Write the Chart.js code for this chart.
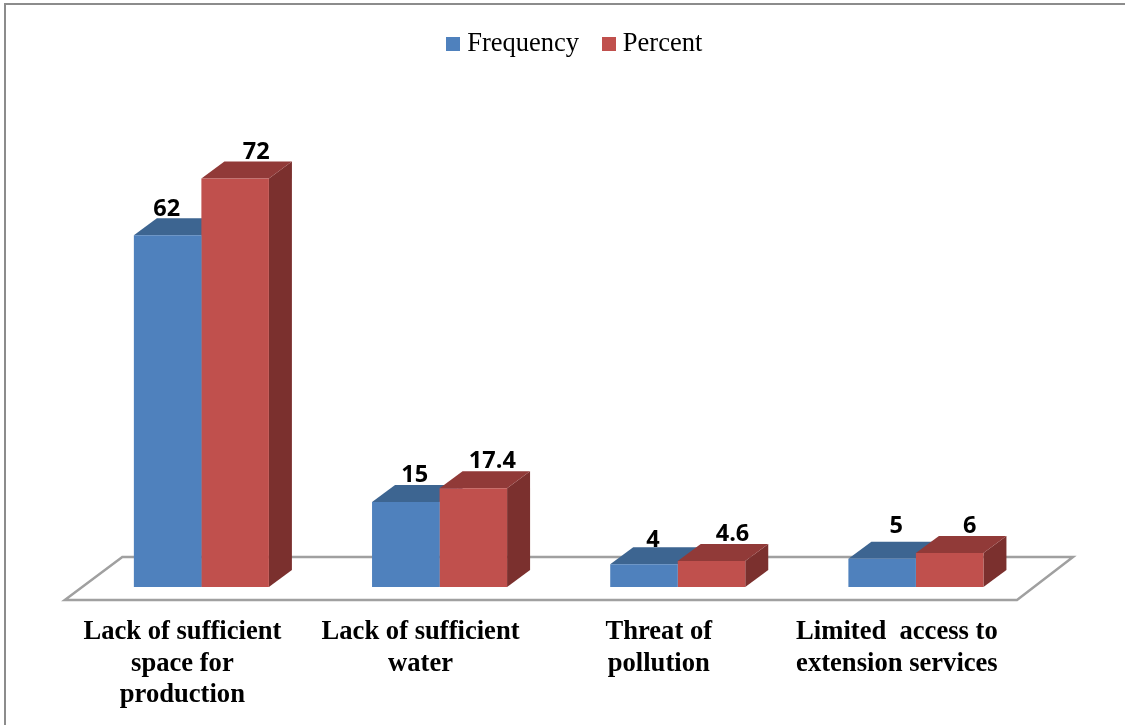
<!DOCTYPE html>
<html>
<head>
<meta charset="utf-8">
<title>Constraints</title>
<style>
  html, body { margin: 0; padding: 0; background: #fff; }
  canvas { display: block; }
</style>
<script src="https://cdn.jsdelivr.net/npm/chart.js@4/dist/chart.umd.js"></script>
</head>
<body>
<canvas id="constraintsChart" width="1125" height="725"></canvas>
<script>
const categories = [
  ['Lack of sufficient', 'space for', 'production'],
  ['Lack of sufficient', 'water'],
  ['Threat of', 'pollution'],
  ['Limited  access to', 'extension services']
];
const frequency = [62, 15, 4, 5];
const percent = [72, 17.4, 4.6, 6];

// hand placement of the value labels, relative to the bar's top centre
const labelNudge = [
  [[-1, -19], [9, -20], [9, -17], [14, -26]],
  [[21, -19], [19, -20], [21, -20], [20, -20]]
];

const blue = '#4f81bd';
const red = '#c0504d';
const faces = [
  { top: '#3d6591', side: '#355a82' },
  { top: '#913a38', side: '#7b302e' }
];
const depthX = 23;
const depthY = 17;
const serif = '"Liberation Serif", "Times New Roman", serif';

function swatch(color) {
  const c = document.createElement('canvas');
  c.width = 14;
  c.height = 14;
  const g = c.getContext('2d');
  g.fillStyle = color;
  g.fillRect(0, 0, 14, 14);
  return c;
}

function poly(ctx, pts, fill) {
  ctx.beginPath();
  pts.forEach((p, i) => (i ? ctx.lineTo(p[0], p[1]) : ctx.moveTo(p[0], p[1])));
  ctx.closePath();
  ctx.fillStyle = fill;
  ctx.fill();
}

const bars3d = {
  id: 'bars3d',
  afterLayout(chart) {
    // legend sits right of the plot centre
    chart.legend.left += 19;
    chart.legend.right += 19;
  },
  beforeDraw(chart) {
    const ctx = chart.ctx;
    ctx.save();
    ctx.strokeStyle = '#8c8c8c';
    ctx.lineWidth = 2;
    ctx.beginPath();
    ctx.moveTo(5, chart.height);
    ctx.lineTo(5, 4);
    ctx.lineTo(chart.width, 4);
    ctx.stroke();
    ctx.restore();
  },
  beforeDatasetsDraw(chart) {
    const ctx = chart.ctx;
    const { x, y } = chart.scales;
    const base = y.getPixelForValue(0);
    ctx.save();

    // floor plane
    ctx.beginPath();
    ctx.moveTo(x.left - 17.5, base + 13);
    ctx.lineTo(x.right - 18, base + 13);
    ctx.lineTo(x.right + 38, base - 30);
    ctx.lineTo(x.left + 40, base - 30);
    ctx.closePath();
    ctx.strokeStyle = '#a0a0a0';
    ctx.lineWidth = 2.5;
    ctx.stroke();

    // side and top faces, the fronts come from the library afterwards
    chart.data.datasets.forEach((ds, d) => {
      chart.getDatasetMeta(d).data.forEach(bar => {
        const left = bar.x - bar.width / 2;
        const right = bar.x + bar.width / 2;
        poly(ctx, [[right, bar.y], [right + depthX, bar.y - depthY], [right + depthX, bar.base - depthY], [right, bar.base]], faces[d].side);
        poly(ctx, [[left, bar.y], [left + depthX, bar.y - depthY], [right + depthX, bar.y - depthY], [right, bar.y]], faces[d].top);
      });
    });
    ctx.restore();
  },
  afterDatasetsDraw(chart) {
    const ctx = chart.ctx;
    ctx.save();
    ctx.font = '700 23.5px "Open Sans", sans-serif';
    ctx.fillStyle = '#000';
    ctx.textAlign = 'center';
    ctx.textBaseline = 'alphabetic';
    chart.data.datasets.forEach((ds, d) => {
      chart.getDatasetMeta(d).data.forEach((bar, i) => {
        const n = labelNudge[d][i];
        ctx.fillText(String(ds.data[i]), bar.x + n[0], bar.y + n[1]);
      });
    });
    ctx.restore();
  }
};

new Chart(document.getElementById('constraintsChart'), {
  type: 'bar',
  data: {
    labels: categories,
    datasets: [
      { label: 'Frequency', data: frequency, backgroundColor: blue, pointStyle: swatch(blue) },
      { label: 'Percent', data: percent, backgroundColor: red, pointStyle: swatch(red) }
    ]
  },
  options: {
    responsive: false,
    animation: false,
    categoryPercentage: 0.567,
    barPercentage: 1,
    layout: { padding: { top: 1.5, left: 82.3, right: 90, bottom: 0 } },
    plugins: {
      tooltip: { enabled: false },
      legend: {
        position: 'top',
        labels: {
          usePointStyle: true,
          boxWidth: 1,
          padding: 29.5,
          color: '#000',
          font: { family: serif, size: 26.5 }
        }
      }
    },
    scales: {
      x: {
        grid: { display: false },
        border: { display: false },
        afterFit(scale) { scale.height = 138; },
        ticks: {
          color: '#000',
          autoSkip: false,
          maxRotation: 0,
          labelOffset: -19,
          padding: 22,
          font: { family: serif, size: 26.6, weight: 'bold', lineHeight: 1.17 }
        }
      },
      y: { display: false, min: 0, max: 91.55 }
    }
  },
  plugins: [bars3d]
});
</script>
</body>
</html>
